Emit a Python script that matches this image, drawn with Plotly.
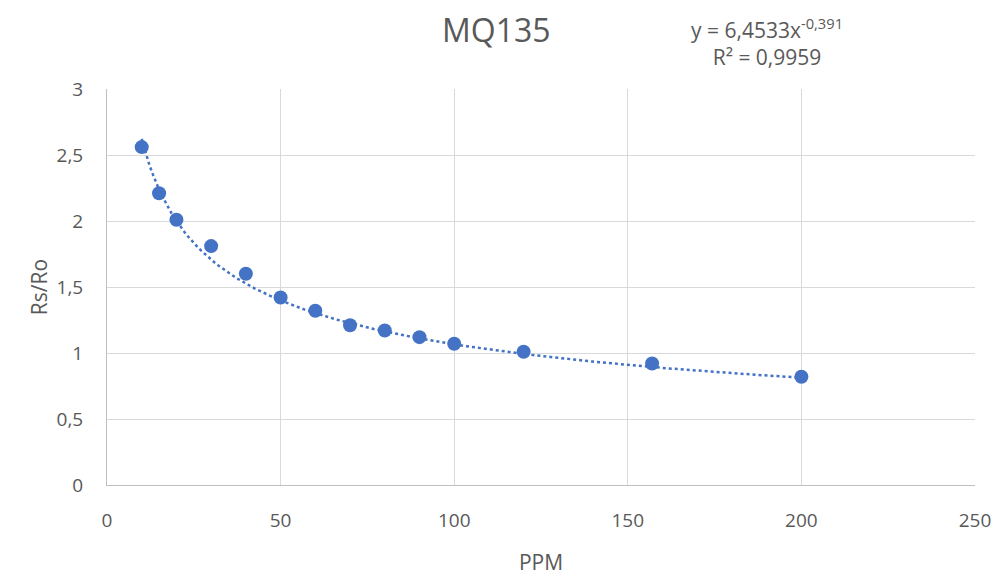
import numpy as np
import plotly.graph_objects as go

ppm = [10, 15, 20, 30, 40, 50, 60, 70, 80, 90, 100, 120, 157, 200]
rs_ro = [2.56, 2.21, 2.01, 1.81, 1.60, 1.42, 1.32, 1.21, 1.17, 1.12, 1.07, 1.01, 0.92, 0.82]

# Power trendline coefficients as displayed on the chart
coef_a = 6.4533
coef_b = -0.391
r2_text = "0,9959"

x_tick_vals = [0, 50, 100, 150, 200, 250]
y_tick_vals = [0, 0.5, 1, 1.5, 2, 2.5, 3]
y_tick_text = ["0", "0,5", "1", "1,5", "2", "2,5", "3"]

FONT = "Open Sans"
GRAY = "#595959"
BLUE = "#4472C4"

xt = np.linspace(min(ppm), max(ppm), 200)
yt = coef_a * xt ** coef_b

fig = go.Figure()
fig.add_trace(go.Scatter(x=xt, y=yt, mode="lines",
                         line=dict(color=BLUE, width=2.5, dash="dot"),
                         hoverinfo="skip", showlegend=False))
fig.add_trace(go.Scatter(x=ppm, y=rs_ro, mode="markers",
                         marker=dict(color=BLUE, size=14),
                         showlegend=False))

eq_text = (f"y = {str(coef_a).replace('.', ',')}x<sup>{str(coef_b).replace('.', ',')}</sup>"
           f"<br>R² = {r2_text}")

fig.update_layout(
    width=994, height=568,
    margin=dict(l=99, r=27, t=81, b=91),
    paper_bgcolor="white", plot_bgcolor="white",
    font=dict(family=FONT, color=GRAY, size=18),
    xaxis=dict(range=[0, 250], tickvals=x_tick_vals, showgrid=True,
               gridcolor="#D9D9D9", gridwidth=1, zeroline=False,
               showline=True, linecolor="#BFBFBF", linewidth=1,
               ticks="", ticklabelstandoff=18, automargin=False,
               tickfont=dict(size=19, color=GRAY, family=FONT),
               title=dict(text="PPM", font=dict(size=21, color=GRAY, family=FONT), standoff=24)),
    yaxis=dict(range=[0, 3], tickvals=y_tick_vals, ticktext=y_tick_text,
               showgrid=True, gridcolor="#D9D9D9", gridwidth=1, zeroline=False,
               showline=True, linecolor="#BFBFBF", linewidth=1,
               ticks="", ticklabelstandoff=19, automargin=False,
               tickfont=dict(size=19, color=GRAY, family=FONT),
               title=dict(text="Rs/Ro", font=dict(size=21, color=GRAY, family=FONT), standoff=3)),
    annotations=[
        dict(text="MQ135", xref="paper", yref="paper", x=0.449, y=1.150,
             xanchor="center", yanchor="middle", showarrow=False,
             font=dict(size=32, color=GRAY, family=FONT)),
        dict(text=eq_text, xref="paper", yref="paper", x=0.760, y=1.118,
             xanchor="center", yanchor="middle", align="center",
             showarrow=False, font=dict(size=21, color=GRAY, family=FONT)),
    ],
)

fig.write_html("out.html")
